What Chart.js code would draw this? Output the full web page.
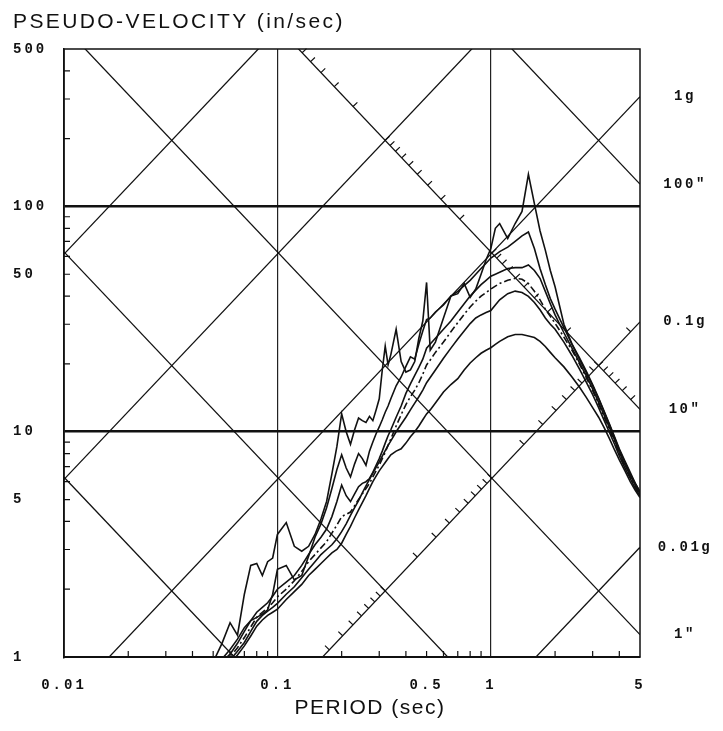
<!DOCTYPE html>
<html>
<head>
<meta charset="utf-8">
<script src="https://cdn.jsdelivr.net/npm/chart.js@4.4.1/dist/chart.umd.min.js"></script>
<style>
  html, body { margin: 0; padding: 0; background: #fff; }
  #box { width: 723px; height: 731px; }
</style>
</head>
<body>
<div id="box"><canvas id="grafico"></canvas></div>
<script>
// periods (sec) at which every spectrum was computed
var periods = [0.05, 0.055, 0.06, 0.065, 0.07, 0.075, 0.08, 0.085, 0.09, 0.095,
  0.1, 0.11, 0.12, 0.13, 0.14, 0.15, 0.16, 0.17, 0.18, 0.19,
  0.2, 0.21, 0.22, 0.23, 0.24, 0.25, 0.26, 0.27, 0.28, 0.29,
  0.3, 0.31, 0.32, 0.33, 0.34,
  0.36, 0.38, 0.4, 0.42, 0.44, 0.46, 0.48, 0.5,
  0.52, 0.55,
  0.6, 0.65, 0.7, 0.75, 0.8, 0.85, 0.9, 0.95, 1.0,
  1.05, 1.1,
  1.2, 1.3, 1.4, 1.5, 1.6, 1.7, 1.8, 1.9, 2.0,
  2.2, 2.4, 2.6, 2.8, 3.0, 3.2, 3.4, 3.6, 3.8, 4.0,
  4.25, 4.5, 4.75, 5.0];

// pseudo-velocity (in/sec), lowest damping first
var sv1 = [0.95, 1.15, 1.42, 1.25, 1.9, 2.55, 2.6, 2.3, 2.65, 2.75,
  3.5, 3.95, 3.1, 2.95, 3.1, 3.5, 4.1, 4.9, 6.5, 8.6,
  12.0, 10.0, 8.8, 10.2, 11.5, 11.2, 11.0, 11.7, 11.2, 12.5,
  14.0, 18.8, 24.0, 19.8, 22.0,
  28.5, 20.5, 18.4, 18.8, 20.5, 26.0, 31.0, 46.0,
  23.0, 25.0,
  32.0, 40.0, 41.0, 45.5, 39.5, 43.0, 50.0, 58.0, 65.0,
  80.0, 84.0,
  72.0, 84.0, 95.0, 139.0, 103.0, 78.0, 64.0, 52.0, 44.0,
  30.0, 24.5, 21.3, 18.6, 16.2, 14.1, 12.3, 10.8, 9.5, 8.4,
  7.4, 6.6, 5.9, 5.4];
var sv2 = [0.9, 0.98, 1.08, 1.2, 1.35, 1.45, 1.5, 1.55, 1.62, 1.9,
  2.45, 2.55, 2.2, 2.3, 2.8, 3.4, 3.9, 4.6, 5.6, 6.8,
  7.9, 6.9, 6.3, 7.2, 8.0, 7.6, 7.1, 8.2, 9.0, 9.8,
  10.5, 11.3, 12.2, 13.0, 14.0,
  16.0, 17.5, 19.5, 21.5, 21.0, 24.5, 28.0, 31.5,
  32.0, 34.0,
  36.5, 40.0, 42.0, 44.5, 47.0, 50.0, 53.0, 56.0, 59.0,
  61.0, 63.0,
  66.0, 70.0, 74.0, 77.0, 65.0, 53.0, 45.0, 39.0, 35.0,
  29.0, 24.5, 21.0, 18.3, 16.0, 14.0, 12.2, 10.7, 9.4, 8.3,
  7.3, 6.5, 5.9, 5.4];
var sv3 = [0.88, 0.95, 1.03, 1.15, 1.3, 1.45, 1.58, 1.66, 1.74, 1.86,
  2.0, 2.15, 2.3, 2.55, 2.85, 3.15, 3.4, 3.7, 4.2, 4.9,
  5.8, 5.2, 4.9, 5.3, 5.7, 5.9, 6.0, 6.2, 6.6, 7.1,
  7.6, 8.2, 8.9, 9.6, 10.2,
  11.6, 13.0, 14.8, 16.3, 17.8, 19.3, 21.0, 23.5,
  24.5, 26.0,
  28.5, 31.0, 34.0, 37.0, 40.0, 42.5, 45.0, 47.0, 49.0,
  50.0, 51.0,
  53.0, 53.5, 53.5, 55.0, 52.0, 48.0, 42.0, 37.0, 33.0,
  27.5, 23.5, 20.3, 17.7, 15.5, 13.5, 11.8, 10.4, 9.2, 8.1,
  7.1, 6.4, 5.8, 5.3];
var sv4 = [0.85, 0.93, 1.0, 1.1, 1.22, 1.36, 1.5, 1.58, 1.65, 1.74,
  1.85, 2.0, 2.18, 2.4, 2.65, 2.85, 3.05, 3.25, 3.55, 3.85,
  4.2, 4.3, 4.4, 4.7, 5.0, 5.3, 5.6, 5.9, 6.3, 6.7,
  7.1, 7.6, 8.1, 8.7, 9.3,
  10.6, 11.9, 13.2, 14.3, 15.3, 16.5, 18.0, 19.8,
  20.8, 22.5,
  25.0, 27.8, 30.5, 33.2, 35.8, 38.0, 40.0, 41.5, 43.0,
  44.3, 45.5,
  47.0, 48.0, 47.5, 45.5, 42.0, 38.5, 35.0, 32.5, 30.3,
  26.3, 23.0, 20.0, 17.4, 15.2, 13.3, 11.6, 10.2, 9.0, 8.0,
  7.0, 6.3, 5.7, 5.2];
var sv5 = [0.82, 0.9, 0.97, 1.06, 1.16, 1.3, 1.44, 1.53, 1.6, 1.66,
  1.73, 1.9, 2.05, 2.25, 2.45, 2.65, 2.85, 3.0, 3.15, 3.35,
  3.6, 3.9, 4.25, 4.6, 4.95, 5.35, 5.75, 6.15, 6.55, 6.95,
  7.35, 7.8, 8.25, 8.7, 9.1,
  10.0, 10.8, 11.6, 12.5, 13.4, 14.3, 15.3, 16.5,
  17.4, 18.8,
  21.2, 23.5, 25.8, 28.0, 30.2, 32.0, 33.0, 33.8, 34.5,
  36.5, 38.5,
  41.0, 42.1, 41.5, 39.9, 37.5, 34.8, 32.0, 30.0, 28.5,
  25.0, 21.8, 19.0, 16.6, 14.6, 12.8, 11.2, 9.9, 8.8, 7.8,
  6.9, 6.2, 5.6, 5.2];
var sv6 = [0.8, 0.87, 0.94, 1.02, 1.12, 1.24, 1.37, 1.46, 1.53, 1.58,
  1.63, 1.8, 1.95, 2.1, 2.3, 2.45, 2.6, 2.75, 2.9, 3.0,
  3.2, 3.5, 3.8, 4.15, 4.5, 4.85, 5.2, 5.6, 6.0, 6.35,
  6.7, 7.0, 7.3, 7.6, 7.9,
  8.2, 8.4, 8.9, 9.5, 10.0, 10.6, 11.3, 12.0,
  12.5, 13.4,
  15.0, 16.2, 17.2, 18.8, 20.2, 21.3, 22.3, 23.0, 23.6,
  24.4, 25.2,
  26.4, 27.0, 27.0, 26.6, 26.2, 25.2, 23.9, 22.5, 21.3,
  19.4, 17.5, 15.8, 14.2, 12.8, 11.6, 10.4, 9.3, 8.3, 7.5,
  6.7, 6.0, 5.5, 5.1];

// axis labels
var periodTicks = [0.01, 0.1, 0.5, 1, 5];
var velocityTicks = [1, 5, 10, 50, 100, 500];

// diagonal grid: displacement (in) and acceleration (g)
var displacements = [0.01, 0.1, 1, 10, 100];
var accelerations = [0.01, 0.1, 1, 10, 100];

var G = 386.09;          // in/sec^2
var TWO_PI = 2 * Math.PI;

function velFromDisp(d, t) { return TWO_PI * d / t; }
function velFromAcc(a, t) { return a * G * t / TWO_PI; }

function pairs(xs, ys) {
  return xs.map(function(x, i) { return { x: x, y: ys[i] }; });
}

var tMin = periodTicks[0], tMax = periodTicks[periodTicks.length - 1];
var vMin = velocityTicks[0], vMax = velocityTicks[velocityTicks.length - 1];

var datasets = [];
var curves = [sv1, sv2, sv3, sv4, sv5, sv6];
curves.forEach(function(sv, i) {
  datasets.push({
    data: pairs(periods, sv),
    showLine: true,
    borderColor: '#111',
    borderWidth: 1.6,
    borderDash: i === 3 ? [7, 3, 2, 3] : [],
    pointRadius: 0,
    tension: 0
  });
});
displacements.forEach(function(d) {
  datasets.push({
    data: [{ x: tMin, y: velFromDisp(d, tMin) }, { x: tMax, y: velFromDisp(d, tMax) }],
    showLine: true, borderColor: '#111', borderWidth: 1.3, pointRadius: 0
  });
});
accelerations.forEach(function(a) {
  datasets.push({
    data: [{ x: tMin, y: velFromAcc(a, tMin) }, { x: tMax, y: velFromAcc(a, tMax) }],
    showLine: true, borderColor: '#111', borderWidth: 1.3, pointRadius: 0
  });
});

var MONO = "'Liberation Mono', 'DejaVu Sans Mono', monospace";
var SANS = "'Liberation Sans', Arial, sans-serif";
var monoFont = { family: MONO, size: 14, weight: 'bold' };

// tick marks along one diagonal line, perpendicular to it
function diagTicks(ctx, chart, points) {
  var sx = chart.scales.x, sy = chart.scales.y, a = chart.chartArea;
  points.forEach(function(p) {
    var x0 = sx.getPixelForValue(p.t), y0 = sy.getPixelForValue(p.v);
    if (x0 < a.left || x0 > a.right || y0 < a.top || y0 > a.bottom) return;
    var x1 = sx.getPixelForValue(p.t * 1.05), y1 = sy.getPixelForValue(p.v2);
    var dx = x1 - x0, dy = y1 - y0, len = Math.sqrt(dx * dx + dy * dy);
    var nx = dy / len, ny = -dx / len;
    ctx.moveTo(x0, y0);
    ctx.lineTo(x0 + nx * 6, y0 + ny * 6);
  });
}

var decorations = {
  id: 'decorations',
  // spaced-out typewriter look for the axis numbers
  beforeDraw: function(chart) { chart.ctx.letterSpacing = '3px'; },
  beforeDatasetsDraw: function(chart) { chart.ctx.letterSpacing = '0px'; },
  afterDraw: function(chart) {
    var ctx = chart.ctx, a = chart.chartArea;
    var sx = chart.scales.x, sy = chart.scales.y;
    ctx.save();
    ctx.strokeStyle = '#111';
    ctx.lineWidth = 1.5;
    ctx.strokeRect(a.left, a.top, a.right - a.left, a.bottom - a.top);

    // minor ticks on the period and velocity axes
    ctx.lineWidth = 1.2;
    ctx.beginPath();
    [0.01, 0.1, 1].forEach(function(dec) {
      for (var k = 2; k <= 9; k++) {
        var v = k * dec;
        if (v >= tMax) break;
        var px = sx.getPixelForValue(v);
        ctx.moveTo(px, a.bottom);
        ctx.lineTo(px, a.bottom - 6);
      }
    });
    [1, 10, 100].forEach(function(dec) {
      for (var k = 2; k <= 9; k++) {
        var v = k * dec;
        if (v >= vMax) break;
        var py = sy.getPixelForValue(v);
        ctx.moveTo(a.left, py);
        ctx.lineTo(a.left + 6, py);
      }
    });

    // acceleration marks along the 10 in. line, displacement marks along the 0.1 g line
    var dRef = displacements[3], aRef = accelerations[1];
    var marks = [];
    [0.01, 0.1, 1, 10].forEach(function(dec) {
      for (var k = 1; k <= 9; k++) {
        var acc = k * dec;
        var t = TWO_PI * Math.sqrt(dRef / (acc * G));
        marks.push({ t: t, v: velFromDisp(dRef, t), v2: velFromDisp(dRef, t * 1.05) });
      }
    });
    diagTicks(ctx, chart, marks);
    marks = [];
    [0.01, 0.1, 1, 10].forEach(function(dec) {
      for (var k = 1; k <= 9; k++) {
        var d = k * dec;
        var t = TWO_PI * Math.sqrt(d / (aRef * G));
        marks.push({ t: t, v: velFromAcc(aRef, t), v2: velFromAcc(aRef, t * 1.05) });
      }
    });
    diagTicks(ctx, chart, marks);
    ctx.stroke();

    // labels where the diagonals leave the right edge
    ctx.fillStyle = '#111';
    ctx.font = 'bold 14px ' + MONO;
    ctx.letterSpacing = '2.5px';
    ctx.textAlign = 'center';
    ctx.textBaseline = 'middle';
    var xLab = a.right + 45;
    accelerations.forEach(function(acc) {
      var y = sy.getPixelForValue(velFromAcc(acc, tMax));
      if (y >= a.top && y <= a.bottom) ctx.fillText(acc + 'g', xLab, y);
    });
    displacements.forEach(function(d) {
      var y = sy.getPixelForValue(velFromDisp(d, tMax));
      if (y >= a.top && y <= a.bottom) ctx.fillText(d + '"', xLab, y);
    });

    // axis titles
    ctx.font = '21px ' + SANS;
    ctx.letterSpacing = '2.4px';
    ctx.textBaseline = 'alphabetic';
    ctx.textAlign = 'left';
    ctx.fillText('PSEUDO-VELOCITY (in/sec)', 13, 28);
    ctx.letterSpacing = '1.5px';
    ctx.textAlign = 'center';
    ctx.fillText('PERIOD (sec)', (a.left + a.right) / 2 + 18, 714);
    ctx.restore();
  }
};

var chart = new Chart(document.getElementById('grafico'), {
  type: 'scatter',
  data: { datasets: datasets },
  plugins: [decorations],
  options: {
    responsive: true,
    maintainAspectRatio: false,
    devicePixelRatio: 1,
    animation: false,
    layout: { padding: { left: 13, right: 83, top: 49, bottom: 0 } },
    plugins: {
      legend: { display: false },
      tooltip: { enabled: false },
      title: { display: false }
    },
    scales: {
      x: {
        type: 'logarithmic',
        min: tMin,
        max: tMax,
        afterBuildTicks: function(scale) {
          scale.ticks = periodTicks.map(function(v) { return { value: v }; });
        },
        afterFit: function(scale) { scale.height = 74; },
        ticks: {
          autoSkip: false,
          maxRotation: 0,
          padding: 20,
          color: '#111',
          font: monoFont,
          callback: function(v) { return String(v); }
        },
        grid: {
          drawTicks: false,
          lineWidth: 1.2,
          color: function(c) {
            var v = c.tick && c.tick.value;
            return (v === 0.1 || v === 1) ? '#222' : 'rgba(0,0,0,0)';
          }
        },
        border: { display: true, color: '#111', width: 2 }
      },
      y: {
        type: 'logarithmic',
        min: vMin,
        max: vMax,
        afterBuildTicks: function(scale) {
          scale.ticks = velocityTicks.map(function(v) { return { value: v }; });
        },
        afterFit: function(scale) { scale.width = 51; },
        ticks: {
          crossAlign: 'far',
          padding: 0,
          color: '#111',
          font: monoFont,
          callback: function(v) { return String(v); }
        },
        grid: {
          drawTicks: false,
          lineWidth: 2.5,
          color: function(c) {
            var v = c.tick && c.tick.value;
            return (v === 10 || v === 100) ? '#111' : 'rgba(0,0,0,0)';
          }
        },
        border: { display: true, color: '#111', width: 1.5 }
      }
    }
  }
});
</script>
</body>
</html>
